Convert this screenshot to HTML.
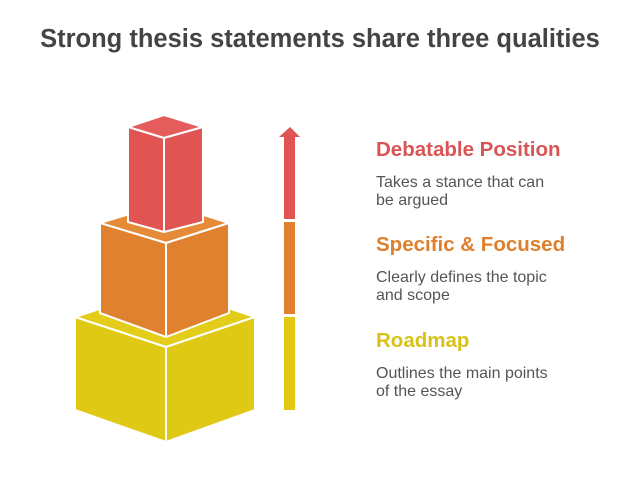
<!DOCTYPE html>
<html><head><meta charset="utf-8"><style>
body{margin:0;width:640px;height:500px;background:#fff;font-family:"Liberation Sans",sans-serif;position:relative;overflow:hidden}
.t{position:absolute;white-space:nowrap}
h1{position:absolute;left:0;width:640px;top:25px;margin:0;text-align:center;font-size:25.5px;font-weight:bold;color:#444}
.h{font-weight:bold;font-size:20.5px}
.d{font-size:16px;color:#555;line-height:18px}
</style></head><body>
<h1>Strong thesis statements share three qualities</h1>
<svg width="640" height="500" style="position:absolute;left:0;top:0">
<g stroke="#fff" stroke-width="2" stroke-linejoin="round">
<polygon points="75,317 166,287 255,317 166,347" fill="#e3cc1a"/>
<polygon points="75,317 166,347 166,442 75,410" fill="#dfc915"/>
<polygon points="166,347 255,317 255,410 166,442" fill="#dfc915"/>
<polygon points="100,223 166,203 229,223 166,243" fill="#e58a38"/>
<polygon points="100,223 166,243 166,337 100,313" fill="#e0812f"/>
<polygon points="166,243 229,223 229,313 166,337" fill="#e0812f"/>
<polygon points="128,127 164,115 203,127 164,138" fill="#e45c5c"/>
<polygon points="128,127 164,138 164,232 128,222" fill="#e05454"/>
<polygon points="164,138 203,127 203,222 164,232" fill="#e05454"/>
</g>
<polygon points="290,127 300,137 295,137 295,219 284,219 284,137 279,137" fill="#e05454"/>
<rect x="284" y="222" width="11" height="92" fill="#e0812f"/>
<rect x="284" y="317" width="11" height="93" fill="#dfc915"/>
</svg>
<div class="t h" style="left:376px;top:138px;color:#d95555">Debatable Position</div>
<div class="t d" style="left:376px;top:174px">Takes a stance that can<br>be argued</div>
<div class="t h" style="left:376px;top:233px;color:#df7f2c">Specific &amp; Focused</div>
<div class="t d" style="left:376px;top:269px">Clearly defines the topic<br>and scope</div>
<div class="t h" style="left:376px;top:329px;color:#d8c21a">Roadmap</div>
<div class="t d" style="left:376px;top:365px">Outlines the main points<br>of the essay</div>
</body></html>
